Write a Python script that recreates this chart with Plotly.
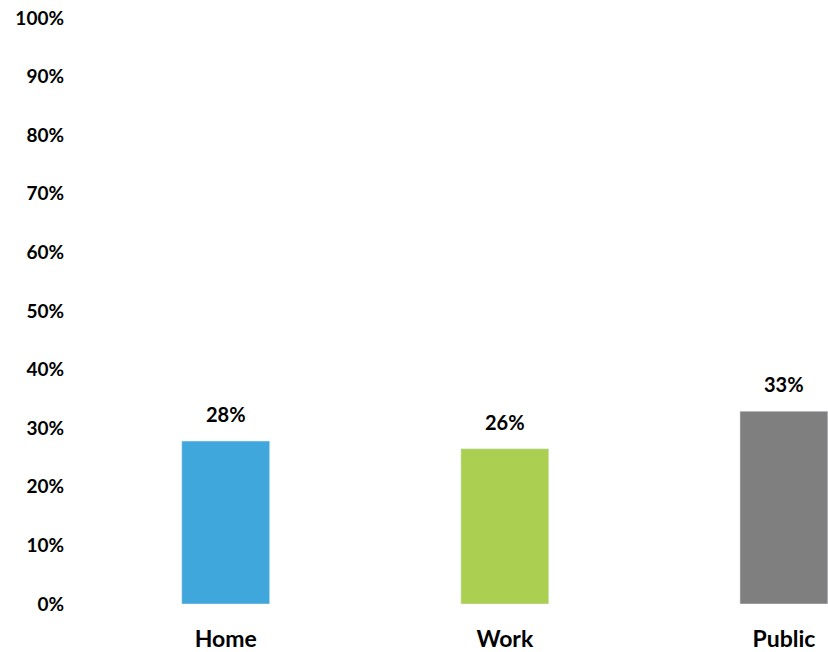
import plotly.graph_objects as go

categories = ["Home", "Work", "Public"]
values = [0.278, 0.265, 0.329]
labels = ["28%", "26%", "33%"]
colors = ["#3FA7DB", "#ABCF51", "#7F7F7F"]
tick_vals = [i / 10 for i in range(11)]
tick_text = [f"{i*10}%" for i in range(11)]

font_family = "Lato, 'Open Sans', sans-serif"

fig = go.Figure(go.Bar(
    x=categories, y=values, marker_color=colors, width=0.315,
    cliponaxis=False,
))

for c, v, t in zip(categories, values, labels):
    fig.add_annotation(x=c, y=v, text=t, showarrow=False, yanchor="middle",
                       yshift=27,
                       font=dict(family=font_family, size=20, color="black", weight="bold"))

fig.update_layout(
    width=828, height=652,
    margin=dict(l=75, r=0, t=18, b=48),
    plot_bgcolor="white", paper_bgcolor="white",
    showlegend=False,
    font=dict(family=font_family, color="black"),
)
fig.update_xaxes(range=[-0.54, 2.158], showline=False, showgrid=False, ticks="",
                 ticklabelstandoff=19,
                 tickfont=dict(family=font_family, size=23, color="black", weight="bold"))
fig.update_yaxes(range=[0, 1], tickvals=tick_vals, ticktext=tick_text,
                 showgrid=False, zeroline=False, showline=False, ticks="",
                 ticklabelstandoff=10,
                 tickfont=dict(family=font_family, size=19, color="black", weight="bold"))

fig.write_html("out.html")
